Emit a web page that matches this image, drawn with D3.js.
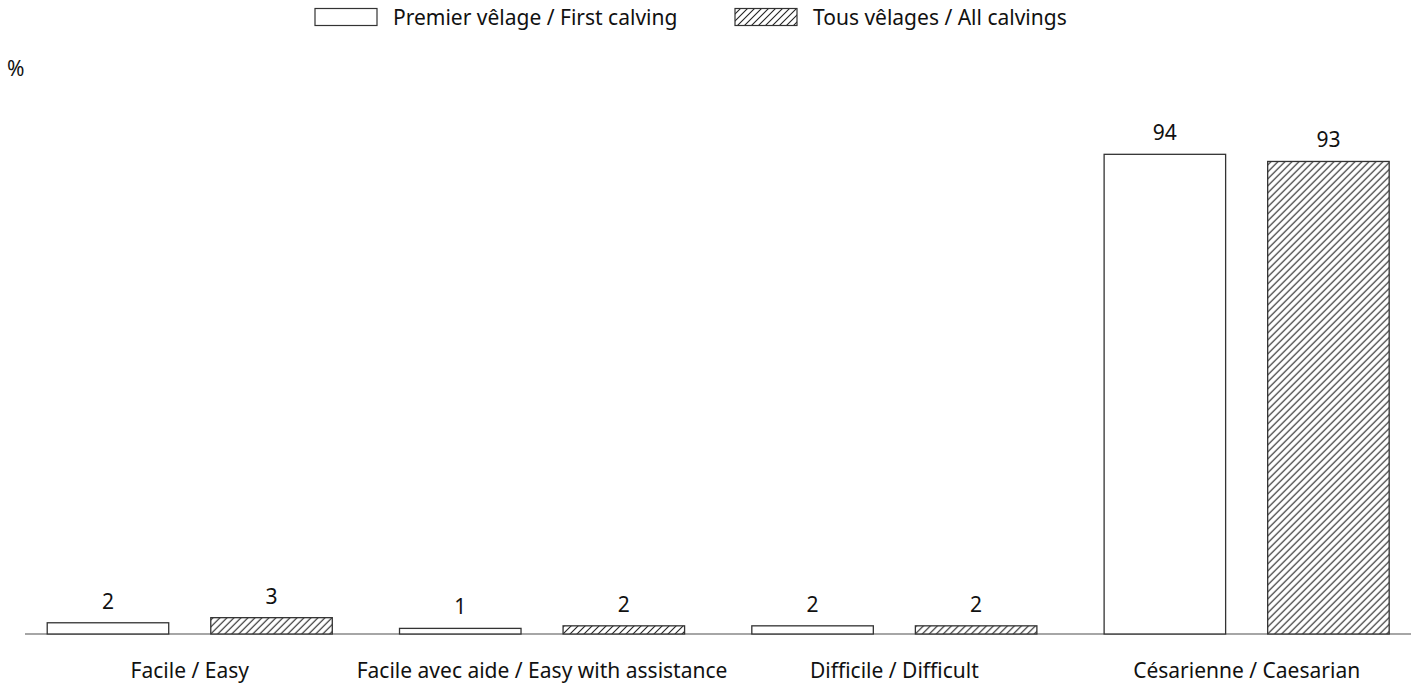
<!DOCTYPE html>
<html>
<head>
<meta charset="utf-8">
<script src="https://cdn.jsdelivr.net/npm/d3@7"></script>
<style>
  html, body { margin: 0; padding: 0; background: #fff; }
  svg text { font-family: "Noto Sans", "DejaVu Sans", sans-serif; fill: #111; }
</style>
</head>
<body>
<svg id="chart" width="1418" height="687"></svg>
<script>
const categories = ["Facile / Easy", "Facile avec aide / Easy with assistance", "Difficile / Difficult", "Césarienne / Caesarian"];
const seriesNames = ["Premier vêlage / First calving", "Tous vêlages / All calvings"];
const firstCalving = [2.2, 1.1, 1.6, 94.0];
const allCalvings = [3.2, 1.6, 1.6, 92.6];
const yUnit = "%";

const svg = d3.select("#chart");
const defs = svg.append("defs");
const pat = defs.append("pattern")
  .attr("id", "hatch").attr("patternUnits", "userSpaceOnUse")
  .attr("width", 7).attr("height", 7);
pat.append("rect").attr("width", 7).attr("height", 7).attr("fill", "#fff");
pat.append("path").attr("d", "M-1,1 l2,-2 M0,7 l7,-7 M6,8 l2,-2")
  .attr("stroke", "#222").attr("stroke-width", 1.1);

const fills = ["#fff", "url(#hatch)"];
const data = categories.map((c, i) => ({cat: c, vals: [firstCalving[i], allCalvings[i]]}));

const x0 = d3.scaleBand().domain(categories).range([13.6, 1422.8]).paddingInner(0.188).paddingOuter(0.094);
const x1 = d3.scaleBand().domain([0, 1]).range([0, x0.bandwidth()]).paddingInner(0.251).paddingOuter(0);
const y = d3.scaleLinear().domain([0, 100]).range([634, 123.7]);

// baseline
svg.append("line").attr("x1", 25).attr("x2", 1411).attr("y1", y(0)).attr("y2", y(0))
  .attr("stroke", "#888").attr("stroke-width", 1.3);

const g = svg.selectAll("g.grp").data(data).join("g").attr("class", "grp")
  .attr("transform", d => `translate(${x0(d.cat)},0)`);

g.selectAll("rect").data(d => d.vals.map((v, k) => ({v, k}))).join("rect")
  .attr("x", d => x1(d.k) + 0.5)
  .attr("y", d => y(d.v))
  .attr("width", x1.bandwidth() - 1)
  .attr("height", d => y(0) - y(d.v))
  .attr("fill", d => fills[d.k])
  .attr("stroke", "#333").attr("stroke-width", 1.3);

g.selectAll("text.val").data(d => d.vals.map((v, k) => ({v, k}))).join("text")
  .attr("class", "val")
  .attr("x", d => x1(d.k) + x1.bandwidth() / 2)
  .attr("y", d => y(d.v) - 14)
  .attr("text-anchor", "middle")
  .attr("font-size", 21)
  .text(d => d3.format(".0f")(d.v));

// category labels
svg.selectAll("text.cat").data(categories).join("text").attr("class", "cat")
  .attr("x", d => x0(d) + x0.bandwidth() / 2)
  .attr("y", 678)
  .attr("text-anchor", "middle")
  .attr("font-size", 21)
  .text(d => d);

// unit
svg.append("text").attr("x", 7).attr("y", 76).attr("font-size", 21).text(yUnit);

// legend
const legX = [315, 735];
seriesNames.forEach((s, k) => {
  svg.append("rect").attr("x", legX[k]).attr("y", 8.5).attr("width", 62).attr("height", 17)
    .attr("fill", fills[k]).attr("stroke", "#333").attr("stroke-width", 1.2);
  svg.append("text").attr("x", legX[k] + 78).attr("y", 25).attr("font-size", 21).text(s);
});
</script>
</body>
</html>
